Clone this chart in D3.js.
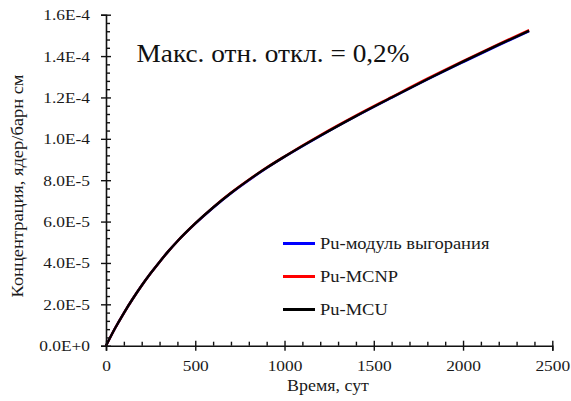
<!DOCTYPE html>
<html>
<head>
<meta charset="utf-8">
<script src="https://cdn.jsdelivr.net/npm/d3@7"></script>
<style>
  html, body { margin: 0; padding: 0; background: #fff; }
  svg { display: block; }
</style>
</head>
<body>
<svg id="chart" width="571" height="401"></svg>
<script>
// Time points, days
const days = [0, 50, 100, 150, 200, 250, 300, 350, 400, 500, 600, 700, 800, 900, 1000, 1200, 1400, 1600, 1800, 2000, 2200, 2370];

// Pu concentration, nuclei / (barn·cm)
const puBurnup = [0, 0.83e-5, 1.58e-5, 2.27e-5, 2.91e-5, 3.50e-5, 4.05e-5, 4.57e-5, 5.05e-5, 5.90e-5, 6.67e-5, 7.37e-5, 8.00e-5, 8.59e-5, 9.13e-5, 10.14e-5, 11.09e-5, 11.99e-5, 12.87e-5, 13.71e-5, 14.53e-5, 15.20e-5];
const puMCNP   = [0, 0.83e-5, 1.58e-5, 2.27e-5, 2.91e-5, 3.50e-5, 4.05e-5, 4.57e-5, 5.05e-5, 5.91e-5, 6.69e-5, 7.39e-5, 8.02e-5, 8.61e-5, 9.15e-5, 10.17e-5, 11.12e-5, 12.02e-5, 12.91e-5, 13.76e-5, 14.58e-5, 15.25e-5];
const puMCU    = [0, 0.83e-5, 1.58e-5, 2.27e-5, 2.91e-5, 3.50e-5, 4.05e-5, 4.57e-5, 5.05e-5, 5.91e-5, 6.68e-5, 7.38e-5, 8.015e-5, 8.60e-5, 9.14e-5, 10.15e-5, 11.10e-5, 12.00e-5, 12.88e-5, 13.73e-5, 14.55e-5, 15.22e-5];

const seriesNames  = ["Pu-модуль выгорания", "Pu-MCNP", "Pu-MCU"];
const seriesColors = ["#0000ff", "#ff0000", "#000000"];

// Axis ticks and labels
const xTicks = [0, 500, 1000, 1500, 2000, 2500];
const xTickLabels = ["0", "500", "1000", "1500", "2000", "2500"];
const yTicks = [0, 2e-5, 4e-5, 6e-5, 8e-5, 1.0e-4, 1.2e-4, 1.4e-4, 1.6e-4];
const yTickLabels = ["0.0E+0", "2.0E-5", "4.0E-5", "6.0E-5", "8.0E-5", "1.0E-4", "1.2E-4", "1.4E-4", "1.6E-4"];

const xTitle = "Время, сут";
const yTitle = "Концентрация, ядер/барн см";
const note = "Макс. отн. откл. = 0,2%";

const FONT = '"Liberation Serif", "Times New Roman", serif';
const STRETCH = 1.12;   // glyphs are drawn slightly wide

// Widen text horizontally by a factor (or to a fixed length)
function widen(sel, factor, fixed) {
  sel.each(function () {
    const len = fixed || this.getComputedTextLength() * factor;
    d3.select(this).attr("textLength", len).attr("lengthAdjust", "spacingAndGlyphs");
  });
}

const svg = d3.select("#chart");

const x = d3.scaleLinear().domain([0, 2500]).range([106, 552.3]);
const y = d3.scaleLinear().domain([0, 1.6e-4]).range([345.7, 14.7]);

// Minor ticks: every 100 days, every 4E-6
const xMinor = d3.range(0, 2501, 100).filter(v => v % 500 !== 0);
const yMinor = d3.range(0, 41).map(i => i * 4e-6).filter((v, i) => i % 5 !== 0);

// Lines
const line = d3.line().x(d => x(d[0])).y(d => y(d[1])).curve(d3.curveMonotoneX);
const allSeries = [puBurnup, puMCNP, puMCU];
allSeries.forEach((vals, i) => {
  svg.append("path")
    .datum(days.map((d, j) => [d, vals[j]]))
    .attr("fill", "none")
    .attr("stroke", seriesColors[i])
    .attr("stroke-width", 2.4)
    .attr("d", line);
});

// X axis
const xAxis = svg.append("g").attr("transform", `translate(0,${y(0)})`)
  .call(d3.axisBottom(x).tickValues(xTicks).tickSize(5).tickPadding(9)
    .tickFormat((d, i) => xTickLabels[i]));
xAxis.selectAll(".tick line").attr("y1", -5).attr("y2", 5);
const xAxisMinor = svg.append("g").attr("transform", `translate(0,${y(0)})`)
  .call(d3.axisBottom(x).tickValues(xMinor).tickSize(-4).tickFormat(""));
xAxisMinor.select(".domain").remove();

// Y axis
const yAxis = svg.append("g").attr("transform", `translate(${x(0)},0)`)
  .call(d3.axisLeft(y).tickValues(yTicks).tickSize(5).tickPadding(11)
    .tickFormat((d, i) => yTickLabels[i]));
yAxis.selectAll(".tick line").attr("x1", -5).attr("x2", 5);
const yAxisMinor = svg.append("g").attr("transform", `translate(${x(0)},0)`)
  .call(d3.axisLeft(y).tickValues(yMinor).tickSize(-4).tickFormat(""));
yAxisMinor.select(".domain").remove();

svg.selectAll(".domain").attr("stroke", "#111").attr("stroke-width", 1.6);
svg.selectAll(".tick line").attr("stroke", "#111").attr("stroke-width", 1.4);
svg.selectAll("g").attr("font-family", FONT);
svg.selectAll(".tick text")
  .attr("font-family", FONT)
  .attr("font-size", 15.5)
  .attr("fill", "#1a1a1a")
  .call(widen, STRETCH);

// Axis titles
svg.append("text")
  .attr("x", 328).attr("y", 391)
  .attr("text-anchor", "middle")
  .attr("font-family", FONT).attr("font-size", 16).attr("fill", "#1a1a1a")
  .text(xTitle)
  .call(widen, STRETCH);

svg.append("text")
  .attr("transform", "translate(23,186) rotate(-90)")
  .attr("text-anchor", "middle")
  .attr("font-family", FONT).attr("font-size", 16.5).attr("fill", "#1a1a1a")
  .text(yTitle)
  .call(widen, 1, 223);

// Deviation note
svg.append("text")
  .attr("x", 136.5).attr("y", 62)
  .attr("font-family", FONT).attr("font-size", 26).attr("fill", "#111")
  .text(note)
  .call(widen, 1, 273);

// Legend
const legend = svg.append("g").attr("transform", "translate(283,243.5)");
seriesNames.forEach((name, i) => {
  const g = legend.append("g").attr("transform", `translate(0,${i * 33})`);
  g.append("line").attr("x1", 0).attr("x2", 32).attr("y1", 0).attr("y2", 0)
    .attr("stroke", seriesColors[i]).attr("stroke-width", 3);
  g.append("text").attr("x", 37).attr("y", 5.5)
    .attr("font-family", FONT).attr("font-size", 16.5).attr("fill", "#1a1a1a")
    .text(name)
    .call(widen, STRETCH);
});
</script>
</body>
</html>
